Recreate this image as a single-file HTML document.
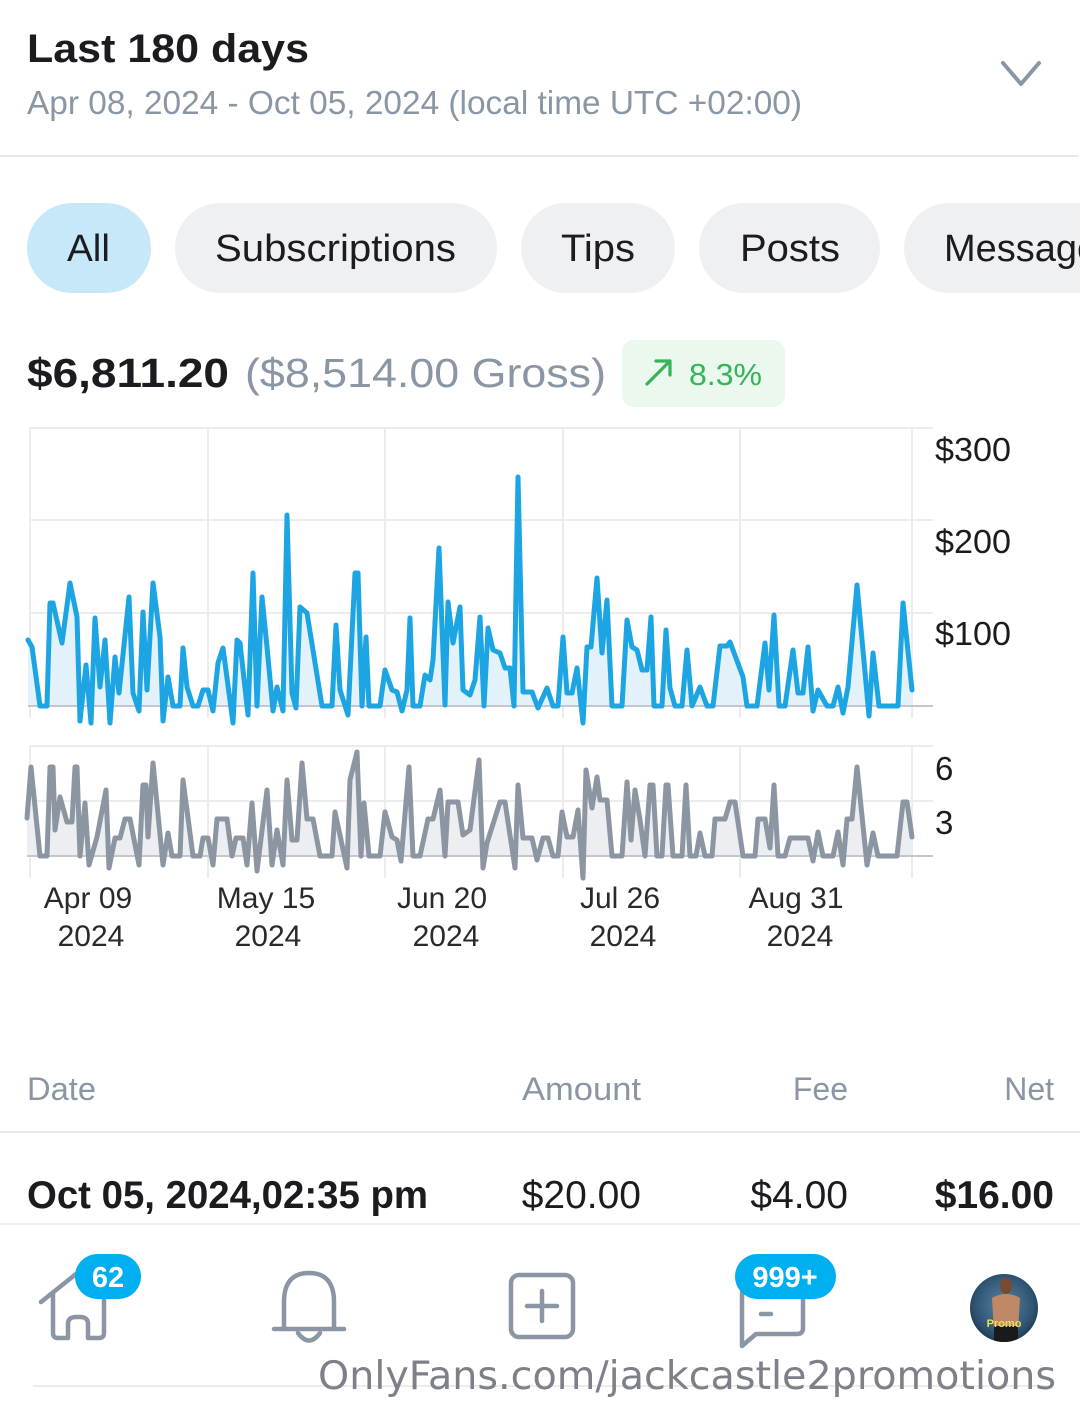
<!DOCTYPE html>
<html><head><meta charset="utf-8"><style>
html,body{margin:0;padding:0;background:#fff;}
body{width:1080px;height:1422px;overflow:hidden;}
svg{display:block;}
text{font-family:"Liberation Sans",Arial,sans-serif;}
</style></head><body>
<svg width="1080" height="1422" viewBox="0 0 1080 1422" xmlns="http://www.w3.org/2000/svg">
<rect width="1080" height="1422" fill="#fff"/>
<!-- header -->
<text x="27" y="62" font-size="40" font-weight="bold" fill="#1c1c20" textLength="282" lengthAdjust="spacingAndGlyphs">Last 180 days</text>
<text x="27" y="114" font-size="33" fill="#8a96a3" textLength="775" lengthAdjust="spacingAndGlyphs">Apr 08, 2024 - Oct 05, 2024 (local time UTC +02:00)</text>
<polyline points="1003,63 1021,84 1039,63" fill="none" stroke="#8a96a3" stroke-width="4" stroke-linecap="round" stroke-linejoin="round"/>
<rect x="0" y="155" width="1078" height="2" fill="#e6e8ea"/>
<!-- pills -->
<rect x="27" y="203" width="124" height="90" rx="45" fill="#c7e8f8"/>
<rect x="175" y="203" width="322" height="90" rx="45" fill="#eff0f2"/>
<rect x="521" y="203" width="154" height="90" rx="45" fill="#eff0f2"/>
<rect x="699" y="203" width="181" height="90" rx="45" fill="#eff0f2"/>
<rect x="904" y="203" width="230" height="90" rx="45" fill="#eff0f2"/>
<text x="67" y="261" font-size="38" fill="#1c1c20" textLength="43" lengthAdjust="spacingAndGlyphs">All</text>
<text x="215" y="261" font-size="38" fill="#1c1c20" textLength="241" lengthAdjust="spacingAndGlyphs">Subscriptions</text>
<text x="561" y="261" font-size="38" fill="#1c1c20" textLength="74" lengthAdjust="spacingAndGlyphs">Tips</text>
<text x="740" y="261" font-size="38" fill="#1c1c20" textLength="100" lengthAdjust="spacingAndGlyphs">Posts</text>
<text x="944" y="261" font-size="38" fill="#1c1c20">Messages</text>
<!-- amount -->
<text x="27" y="387" font-size="41" font-weight="bold" fill="#1c1c20" textLength="202" lengthAdjust="spacingAndGlyphs">$6,811.20</text>
<text x="245" y="387" font-size="41" fill="#8a96a3" textLength="361" lengthAdjust="spacingAndGlyphs">($8,514.00 Gross)</text>
<rect x="622" y="340" width="163" height="67" rx="12" fill="#eaf8ee"/>
<path d="M647,384 L670,361 M656,361 L670,361 L670,375" fill="none" stroke="#35b45a" stroke-width="3.2" stroke-linecap="round" stroke-linejoin="round"/>
<text x="689" y="385" font-size="31" fill="#35b45a" textLength="73" lengthAdjust="spacingAndGlyphs">8.3%</text>

<!-- chart grid -->
<g stroke="#ececec" stroke-width="2">
<line x1="30" y1="428" x2="933" y2="428"/>
<line x1="30" y1="520" x2="933" y2="520"/>
<line x1="30" y1="613" x2="933" y2="613"/>
<line x1="30" y1="428" x2="30" y2="718"/>
<line x1="208" y1="428" x2="208" y2="718"/>
<line x1="385" y1="428" x2="385" y2="718"/>
<line x1="563" y1="428" x2="563" y2="718"/>
<line x1="740" y1="428" x2="740" y2="718"/>
<line x1="912" y1="428" x2="912" y2="718"/>
<line x1="30" y1="746" x2="933" y2="746"/>
<line x1="30" y1="801" x2="933" y2="801"/>
<line x1="30" y1="746" x2="30" y2="878"/>
<line x1="208" y1="746" x2="208" y2="878"/>
<line x1="385" y1="746" x2="385" y2="878"/>
<line x1="563" y1="746" x2="563" y2="878"/>
<line x1="740" y1="746" x2="740" y2="878"/>
<line x1="912" y1="746" x2="912" y2="878"/>
</g>
<!-- blue series -->
<polygon fill="#e3f2fa" points="28,706 28,640 32,647 40,706 47,706 50,603 53,603 62,643 70,583 77,617 80,706 86,665 91,706 95,618 100,687 105,640 110,706 115,657 119,693 129,597 133,693 139,706 143,612 147,690 153,583 160,637 163,706 168,677 173,706 180,706 183,648 187,687 193,706 198,706 203,690 208,690 213,706 218,663 223,648 233,706 237,640 240,643 248,706 253,573 257,706 262,597 267,647 273,706 277,687 283,706 287,515 292,693 296,706 300,607 307,613 322,706 332,706 336,625 340,690 348,706 355,573 358,573 362,706 366,637 369,706 380,706 385,670 392,690 397,692 402,706 407,690 410,618 413,706 420,706 425,675 430,680 433,660 439,548 445,705 448,602 453,643 460,607 463,690 470,695 475,680 480,617 484,706 488,628 493,650 500,653 505,668 510,668 514,706 518,477 523,692 532,692 538,706 547,688 553,706 558,706 563,637 567,693 572,693 577,668 583,706 587,647 591,647 597,578 602,653 607,600 612,706 622,706 627,620 632,647 637,650 642,670 647,670 651,617 654,706 662,706 666,630 670,688 675,706 682,706 687,650 692,706 700,687 707,706 713,706 720,646 727,646 730,642 743,677 747,706 757,706 765,643 769,690 774,615 779,706 785,706 793,650 798,693 803,693 808,647 813,706 818,690 827,706 833,706 838,687 843,706 848,687 857,585 869,706 873,653 879,706 898,706 903,603 912,690 912,706"/>
<line x1="28" y1="706" x2="933" y2="706" stroke="#c4c8cd" stroke-width="2"/>
<polyline fill="none" stroke="#1da5e3" stroke-width="5" stroke-linejoin="round" stroke-linecap="round" points="28,640 32,647 40,706 47,706 50,603 53,603 62,643 70,583 77,617 80,721 86,665 91,723 95,618 100,687 105,640 110,723 115,657 119,693 129,597 133,693 139,711 143,612 147,690 153,583 160,637 163,721 168,677 173,706 180,706 183,648 187,687 193,706 198,706 203,690 208,690 213,711 218,663 223,648 233,723 237,640 240,643 248,715 253,573 257,706 262,597 267,647 273,711 277,687 283,711 287,515 292,693 296,708 300,607 307,613 322,706 332,706 336,625 340,690 348,715 355,573 358,573 362,706 366,637 369,706 380,706 385,670 392,690 397,692 402,711 407,690 410,618 413,706 420,706 425,675 430,680 433,660 439,548 445,705 448,602 453,643 460,607 463,690 470,695 475,680 480,617 484,706 488,628 493,650 500,653 505,668 510,668 514,706 518,477 523,692 532,692 538,708 547,688 553,706 558,706 563,637 567,693 572,693 577,668 583,723 587,647 591,647 597,578 602,653 607,600 612,706 622,706 627,620 632,647 637,650 642,670 647,670 651,617 654,706 662,706 666,630 670,688 675,706 682,706 687,650 692,706 700,687 707,706 713,706 720,646 727,646 730,642 743,677 747,706 757,706 765,643 769,690 774,615 779,706 785,706 793,650 798,693 803,693 808,647 813,711 818,690 827,706 833,706 838,687 843,713 848,687 857,585 869,716 873,653 879,706 898,706 903,603 912,690"/>
<!-- gray series -->
<polygon fill="#eceef1" points="27,856 27,818 31,767 40,856 47,856 50,767 53,767 55,830 60,797 67,822 72,822 75,767 77,767 80,856 85,803 89,856 97,837 106,790 109,856 115,838 120,838 125,819 130,819 139,856 143,785 146,785 148,837 153,763 163,856 168,833 172,856 180,856 183,780 193,856 200,856 203,838 208,838 213,856 217,819 227,819 232,856 236,838 243,838 247,856 252,803 257,856 267,790 272,856 277,830 283,856 287,780 292,840 297,840 302,763 307,819 313,819 320,856 332,856 335,812 347,856 350,780 357,752 361,856 364,803 369,856 380,856 385,812 392,837 397,840 401,856 409,767 413,856 420,856 428,819 433,819 440,790 445,856 448,802 458,802 463,835 470,830 479,760 483,856 487,843 500,802 505,802 515,856 518,785 523,838 532,838 537,856 543,838 548,838 553,856 558,856 562,812 567,837 573,837 578,810 583,856 586,770 592,808 597,777 600,800 607,800 612,856 622,856 627,782 631,840 635,790 640,820 645,856 650,785 653,785 657,856 662,856 666,785 668,785 673,856 682,856 686,785 690,856 696,856 700,833 705,856 712,856 715,819 725,819 730,802 735,802 743,856 755,856 758,819 765,819 770,848 774,785 778,856 785,856 790,838 808,838 813,856 818,832 823,856 833,856 838,832 843,856 847,819 852,819 857,767 867,856 873,833 878,856 897,856 903,802 907,802 912,837 912,856"/>
<line x1="27" y1="856" x2="933" y2="856" stroke="#c4c8cd" stroke-width="2"/>
<polyline fill="none" stroke="#8b96a2" stroke-width="5" stroke-linejoin="round" stroke-linecap="round" points="27,818 31,767 40,856 47,856 50,767 53,767 55,830 60,797 67,822 72,822 75,767 77,767 80,856 85,803 89,865 97,837 106,790 109,868 115,838 120,838 125,819 130,819 139,865 143,785 146,785 148,837 153,763 163,865 168,833 172,856 180,856 183,780 193,856 200,856 203,838 208,838 213,865 217,819 227,819 232,856 236,838 243,838 247,865 252,803 257,871 267,790 272,865 277,830 283,865 287,780 292,840 297,840 302,763 307,819 313,819 320,856 332,856 335,812 347,868 350,780 357,752 361,856 364,803 369,856 380,856 385,812 392,837 397,840 401,861 409,767 413,856 420,856 428,819 433,819 440,790 445,856 448,802 458,802 463,835 470,830 479,760 483,868 487,843 500,802 505,802 515,868 518,785 523,838 532,838 537,860 543,838 548,838 553,856 558,856 562,812 567,837 573,837 578,810 583,878 586,770 592,808 597,777 600,800 607,800 612,856 622,856 627,782 631,840 635,790 640,820 645,856 650,785 653,785 657,856 662,856 666,785 668,785 673,856 682,856 686,785 690,856 696,856 700,833 705,856 712,856 715,819 725,819 730,802 735,802 743,856 755,856 758,819 765,819 770,848 774,785 778,856 785,856 790,838 808,838 813,861 818,832 823,856 833,856 838,832 843,865 847,819 852,819 857,767 867,865 873,833 878,856 897,856 903,802 907,802 912,837"/>
<!-- y labels -->
<g font-size="33" fill="#1c1c20">
<text x="935" y="461" textLength="76" lengthAdjust="spacingAndGlyphs">$300</text>
<text x="935" y="553" textLength="76" lengthAdjust="spacingAndGlyphs">$200</text>
<text x="935" y="645" textLength="76" lengthAdjust="spacingAndGlyphs">$100</text>
<text x="935" y="780">6</text>
<text x="935" y="834">3</text>
</g>
<!-- x labels -->
<g font-size="30" fill="#2a2a2e" text-anchor="middle">
<text x="88" y="908">Apr 09</text><text x="91" y="946">2024</text>
<text x="266" y="908">May 15</text><text x="268" y="946">2024</text>
<text x="442" y="908">Jun 20</text><text x="446" y="946">2024</text>
<text x="620" y="908">Jul 26</text><text x="623" y="946">2024</text>
<text x="796" y="908">Aug 31</text><text x="800" y="946">2024</text>
</g>
<!-- table -->
<g font-size="32" fill="#8a96a3">
<text x="27" y="1100" textLength="69" lengthAdjust="spacingAndGlyphs">Date</text>
<text x="522" y="1100" textLength="119" lengthAdjust="spacingAndGlyphs">Amount</text>
<text x="848" y="1100" text-anchor="end">Fee</text>
<text x="1054" y="1100" text-anchor="end">Net</text>
</g>
<rect x="0" y="1131" width="1080" height="2" fill="#e8eaec"/>
<text x="27" y="1208" font-size="39" font-weight="bold" fill="#1c1c20" textLength="401" lengthAdjust="spacingAndGlyphs">Oct 05, 2024,02:35 pm</text>
<text x="641" y="1208" font-size="39" fill="#1c1c20" text-anchor="end">$20.00</text>
<text x="848" y="1208" font-size="39" fill="#1c1c20" text-anchor="end">$4.00</text>
<text x="1054" y="1208" font-size="39" font-weight="bold" fill="#1c1c20" text-anchor="end">$16.00</text>
<rect x="0" y="1223" width="1080" height="2" fill="#eceef0"/>
<!-- bottom nav -->
<g fill="none" stroke="#8a96a3" stroke-width="4.5" stroke-linecap="round" stroke-linejoin="round">
<path d="M41,1302 L76,1274"/>
<path d="M53,1293 L53,1333 Q53,1338 58,1338 L68,1338 L68,1324 Q68,1317 76,1317 L80,1317 Q88,1317 88,1324 L88,1338 L99,1338 Q104,1338 104,1333 L104,1298"/>
<path d="M284,1328 L284,1302 Q284,1273 309,1273 Q334,1273 334,1302 L334,1328"/>
<path d="M274,1329 L344,1329"/>
<path d="M298,1333 Q309,1348 320,1333"/>
<rect x="511" y="1275" width="62" height="62" rx="8"/>
<path d="M542,1291 L542,1321 M527,1306 L557,1306"/>
<path d="M742,1292 L742,1346 L756,1334 L797,1334 Q803,1334 803,1328 L803,1294"/>
<path d="M761,1314 L771,1314"/>
</g>
<rect x="75" y="1254" width="66" height="45" rx="22.5" fill="#00aff0"/>
<text x="108" y="1287" font-size="29" font-weight="bold" fill="#fff" text-anchor="middle">62</text>
<rect x="735" y="1254" width="101" height="45" rx="22.5" fill="#00aff0"/>
<text x="785" y="1287" font-size="29" font-weight="bold" fill="#fff" text-anchor="middle">999+</text>
<defs>
<radialGradient id="av" cx="50%" cy="45%" r="60%">
<stop offset="0" stop-color="#5b84a3"/><stop offset="0.7" stop-color="#2f5573"/><stop offset="1" stop-color="#1c3247"/>
</radialGradient>
<clipPath id="avc"><circle cx="1004" cy="1308" r="34"/></clipPath>
</defs>
<circle cx="1004" cy="1308" r="34" fill="url(#av)"/>
<g clip-path="url(#avc)">
<ellipse cx="1006" cy="1286" rx="6" ry="8" fill="#7a4a30"/>
<path d="M992,1298 Q1006,1290 1020,1298 L1018,1330 L994,1330 Z" fill="#c08866"/>
<rect x="994" y="1326" width="24" height="20" fill="#1a1a1a"/>
<text x="1004" y="1327" font-size="11" font-weight="bold" fill="#e8e060" text-anchor="middle">Promo</text>
</g>
<!-- watermark -->
<line x1="33" y1="1386" x2="1050" y2="1386" stroke="#e6e6e6" stroke-width="1.5"/>
<text x="318" y="1389" font-size="39" fill="#7d8088" style="font-family:'DejaVu Sans',sans-serif" textLength="738" lengthAdjust="spacingAndGlyphs">OnlyFans.com/jackcastle2promotions</text>
</svg>
</body></html>
